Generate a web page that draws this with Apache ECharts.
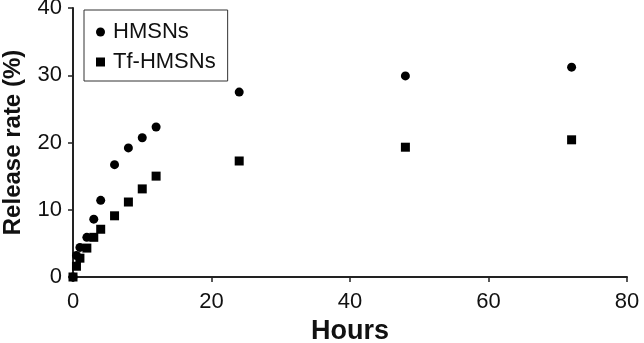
<!DOCTYPE html>
<html>
<head>
<meta charset="utf-8">
<script src="https://cdn.jsdelivr.net/npm/echarts@6/dist/echarts.min.js"></script>
<style>
  html, body { margin: 0; padding: 0; background: #fff; }
  #chart { width: 644px; height: 343px; }
</style>
</head>
<body>
<div id="chart"></div>
<script>
// time points (hours)
const hours = [0, 0.5, 1, 2, 3, 4, 6, 8, 10, 12, 24, 48, 72];
// release rate (%)
const hmsns = [0, 3.2, 4.4, 5.9, 8.6, 11.4, 16.7, 19.2, 20.7, 22.3, 27.5, 29.9, 31.2];
const tfHmsns = [0, 1.6, 2.8, 4.3, 5.9, 7.1, 9.1, 11.15, 13.1, 15.0, 17.25, 19.3, 20.4];

const font = 'Liberation Sans, Arial, sans-serif';

let chart = echarts.init(document.getElementById('chart'));

const option = {
    animation: false,
    grid: {
        left: 73,
        right: 17,
        top: 8,
        bottom: 66,
        outerBoundsMode: 'none'
    },
    legend: {
        left: 84,
        top: 10,
        orient: 'vertical',
        itemGap: 8,
        itemWidth: 9,
        itemHeight: 9,
        padding: [11, 12, 8, 12],
        borderColor: '#333',
        borderWidth: 1,
        textStyle: {fontFamily: font, fontSize: 22, lineHeight: 22, color: '#111', padding: [0, 0, 0, 3]},
        data: [
            {name: 'HMSNs', icon: 'circle'},
            {name: 'Tf-HMSNs', icon: 'rect'}
        ]
    },
    xAxis: {
        type: 'value',
        min: 0,
        max: 80,
        interval: 20,
        name: 'Hours',
        nameLocation: 'middle',
        nameGap: 34,
        nameTextStyle: {fontFamily: font, fontSize: 27, fontWeight: 'bold', color: '#111'},
        axisLine: {onZero: false, lineStyle: {color: '#222', width: 2}},
        axisTick: {show: true, length: 5, lineStyle: {color: '#222', width: 1.5}},
        axisLabel: {fontFamily: font, fontSize: 22, color: '#111', margin: 14},
        splitLine: {show: false}
    },
    yAxis: {
        type: 'value',
        min: 0,
        max: 40,
        interval: 10,
        name: 'Release rate (%)',
        nameLocation: 'middle',
        nameGap: 48,
        nameTextStyle: {fontFamily: font, fontSize: 24, fontWeight: 'bold', color: '#111'},
        axisLine: {show: true, onZero: false, lineStyle: {color: '#222', width: 2}},
        axisTick: {show: true, length: 5, lineStyle: {color: '#222', width: 1.5}},
        axisLabel: {fontFamily: font, fontSize: 22, color: '#111', margin: 11},
        splitLine: {show: false}
    },
    series: [
        {
            name: 'HMSNs',
            type: 'scatter',
            symbol: 'circle',
            symbolSize: 9,
            itemStyle: {color: '#000', opacity: 1},
            data: hours.map((h, i) => [h, hmsns[i]])
        },
        {
            name: 'Tf-HMSNs',
            type: 'scatter',
            symbol: 'rect',
            symbolSize: 9,
            itemStyle: {color: '#000', opacity: 1},
            data: hours.map((h, i) => [h, tfHmsns[i]])
        }
    ]
};

chart.setOption(option);

window.addEventListener('resize', function () {
    chart.resize();
});
</script>
</body>
</html>
